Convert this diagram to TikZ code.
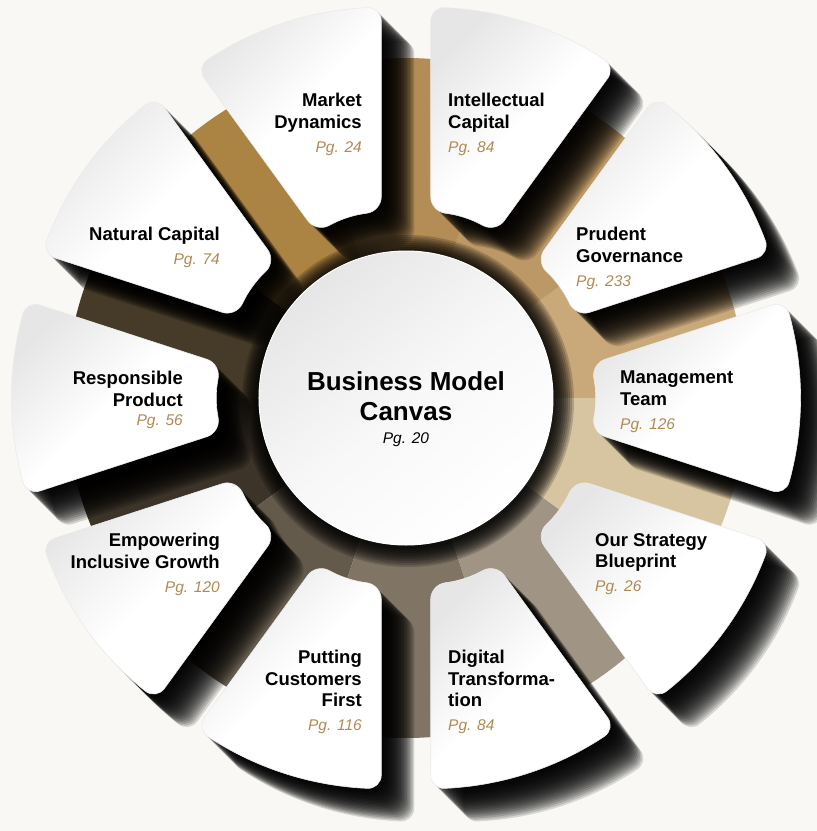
\documentclass[tikz,border=0pt]{standalone}
\usepackage{fontspec}
\setmainfont{Liberation Sans}

\definecolor{paper}{RGB}{249,248,244}
\definecolor{pggold}{RGB}{176,138,82}
\definecolor{cardgray}{RGB}{230,230,230}
% ring colours, one per gap angle
\definecolor{r018}{RGB}{201,168,122}
\definecolor{r054}{RGB}{188,152,102}
\definecolor{r090}{RGB}{180,141,86}
\definecolor{r126}{RGB}{171,131,66}
\definecolor{r162}{RGB}{70,59,40}
\definecolor{r198}{RGB}{60,52,40}
\definecolor{r234}{RGB}{100,90,76}
\definecolor{r270}{RGB}{128,116,100}
\definecolor{r306}{RGB}{160,148,132}
\definecolor{r342}{RGB}{215,196,160}

% one card: 36 degree wedge, apex at the origin of the current scope
\newcommand\cardpath[1]{({#1+18}:111) -- ({#1+18}:315)
	\foreach \a in {12,6,0,-6,-12,-18}{ -- ({#1+\a}:315)}
	-- ({#1-18}:111) -- ({#1}:111) -- cycle}
\newcommand\pagetag[1]{{\fontsize{15.5}{18}\selectfont\mdseries\itshape\color{pggold}#1}}

\begin{document}
\begin{tikzpicture}[x=1pt,y=1pt,
	card/.style={rounded corners=14pt, top color=cardgray, bottom color=white,
		middle color=white, shading angle=45, draw=black!8, line width=0.6pt},
	cardshade/.style={rounded corners=14pt, fill=black, fill opacity=0.14},
	lbl/.style={inner sep=0pt, font=\fontsize{18.5}{21.5}\selectfont\bfseries},
	lbll/.style={lbl, align=left, anchor=north west},
	lblr/.style={lbl, align=right, anchor=north east}]

\useasboundingbox (-406,-433) rectangle (411,398);
\fill[paper] (-406,-433) rectangle (411,398);

% coloured ring behind the cards
\foreach \g/\c in {18/r018,54/r054,90/r090,126/r126,162/r162,198/r198,234/r234,270/r270,306/r306,342/r342}
	\fill[\c] (0,0) -- ({\g-18}:340) arc[start angle={\g-18}, end angle={\g+18}, radius=340] -- cycle;

% long shadows of the cards
\foreach \t in {0,36,...,324}
	\foreach \k in {1,...,22}{
		\begin{scope}[shift={(\t:80)}, shift={(1.5*\k,-1.5*\k)}]
			\path[cardshade] \cardpath{\t};
		\end{scope}
	}

% dark halo round the hub
\foreach \r in {148,150,...,166}
	\fill[black, fill opacity=0.18] (2,-3) circle (\r);

% cards
\foreach \t in {0,36,...,324}{
	\begin{scope}[shift={(\t:80)}]
		\path[card] \cardpath{\t};
	\end{scope}
}

% hub
\path[top color=cardgray, bottom color=white, middle color=white!97!black, shading angle=40,
	draw=white, line width=1pt] (0,0) circle (147);

% labels
\node[lblr] (mkt) at (-44,305) {Market\\Dynamics\\[2.6pt]\pagetag{Pg. 24}};
\node[lbll] (intl) at (42,305) {Intellectual\\Capital\\[2.6pt]\pagetag{Pg. 84}};
\node[lblr] (natc) at (-186,171) {Natural Capital\\[2.6pt]\pagetag{Pg. 74}};
\node[lbll] (gov) at (170,171) {Prudent\\Governance\\[2.6pt]\pagetag{Pg. 233}};
\node[lblr] (resp) at (-223,27) {Responsible\\Product\\[-2.4pt]\pagetag{Pg. 56}};
\node[lbll] (mgmt) at (214,27) {Management\\Team\\[2.6pt]\pagetag{Pg. 126}};
\node[lblr] (emp) at (-186,-135) {Empowering\\Inclusive Growth\\[2.6pt]\pagetag{Pg. 120}};
\node[lbll] (strat) at (189,-135) {Our Strategy\\Blueprint\\[2.6pt]\pagetag{Pg. 26}};
\node[lblr] (cust) at (-44,-252) {Putting\\Customers\\First\\[2.6pt]\pagetag{Pg. 116}};
\node[lbll] (digi) at (42,-252) {Digital\\Transforma-\\tion\\[2.6pt]\pagetag{Pg. 84}};

\node[inner sep=0pt, align=center, anchor=north, font=\fontsize{26}{30}\selectfont\bfseries]
	(bmc) at (0,27) {Business Model\\Canvas\\[-6.8pt]{\fontsize{15.5}{18}\selectfont\mdseries\itshape Pg. 20}};

\end{tikzpicture}
\end{document}
